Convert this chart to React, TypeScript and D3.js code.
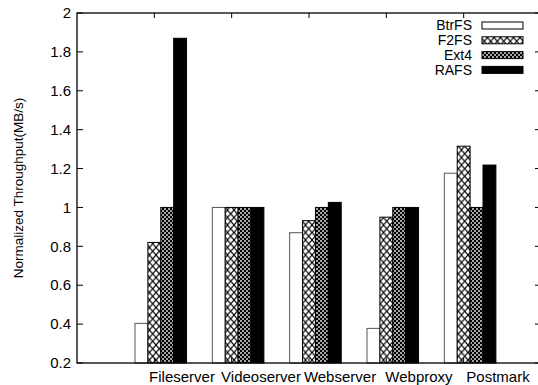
import { useEffect, useRef } from "react";
import * as d3 from "d3";

const categories = ["Fileserver", "Videoserver", "Webserver", "Webproxy", "Postmark"];
const seriesNames = ["BtrFS", "F2FS", "Ext4", "RAFS"];
const btrfs = [0.404, 1.0, 0.87, 0.378, 1.176];
const f2fs = [0.82, 1.0, 0.932, 0.95, 1.315];
const ext4 = [1.0, 1.0, 1.0, 1.0, 1.0];
const rafs = [1.87, 1.0, 1.026, 1.0, 1.218];
const yTicks = [0.2, 0.4, 0.6, 0.8, 1, 1.2, 1.4, 1.6, 1.8, 2];

const series = [btrfs, f2fs, ext4, rafs];
const fills = ["#fff", "url(#f2fs)", "url(#ext4)", "#000"];

export default function App() {
	const ref = useRef<SVGSVGElement>(null);

	useEffect(() => {
		if (!ref.current) return;
		const svg = d3.select(ref.current);
		svg.selectAll("*").remove();

		const left = 77;
		const right = 541;
		const top = 13;
		const bottom = 363;

		const x = d3.scaleLinear().domain([-1, 5]).range([left, right]);
		const y = d3.scaleLinear().domain([0.2, 2]).range([bottom, top]);
		// labels sit a bit right of the tics, like the original
		const xl = d3.scaleLinear().domain([0, 4]).range([182, 498]);
		const bw = 1 / 6;

		// patterns
		const defs = svg.append("defs");
		const p1 = defs
			.append("pattern")
			.attr("id", "f2fs")
			.attr("patternUnits", "userSpaceOnUse")
			.attr("width", 6.5)
			.attr("height", 7.5);
		p1.append("rect").attr("width", 6.5).attr("height", 7.5).attr("fill", "#fff");
		p1.append("path")
			.attr("d", "M0,0L6.5,7.5M6.5,0L0,7.5")
			.attr("stroke", "#000")
			.attr("stroke-width", 1.1);
		const p2 = defs
			.append("pattern")
			.attr("id", "ext4")
			.attr("patternUnits", "userSpaceOnUse")
			.attr("width", 4)
			.attr("height", 4);
		p2.append("rect").attr("width", 4).attr("height", 4).attr("fill", "#000");
		p2.append("rect").attr("x", 0.2).attr("y", 0.2).attr("width", 1.6).attr("height", 1.6).attr("fill", "#fff");
		p2.append("rect").attr("x", 2.2).attr("y", 2.2).attr("width", 1.6).attr("height", 1.6).attr("fill", "#fff");

		const font = "'Liberation Sans', Arial, Helvetica, sans-serif";

		// bars
		series.forEach((vals, j) => {
			svg
				.append("g")
				.selectAll("rect")
				.data(vals)
				.join("rect")
				.attr("x", (_, i) => x(i + (j - 1) * bw - bw / 2))
				.attr("y", (d) => y(d))
				.attr("width", x(bw) - x(0))
				.attr("height", (d) => bottom - y(d))
				.attr("fill", fills[j])
				.attr("stroke", j === 0 ? "#555" : "#000")
				.attr("stroke-width", 1);
		});

		// frame
		svg
			.append("rect")
			.attr("x", left)
			.attr("y", top)
			.attr("width", right - left)
			.attr("height", bottom - top)
			.attr("fill", "none")
			.attr("stroke", "#000")
			.attr("stroke-width", 1.3);

		// y ticks
		const yg = svg.append("g");
		yTicks.forEach((t) => {
			yg.append("line")
				.attr("x1", left)
				.attr("x2", left + 6)
				.attr("y1", y(t))
				.attr("y2", y(t))
				.attr("stroke", "#000");
			yg.append("line")
				.attr("x1", right - 6)
				.attr("x2", right)
				.attr("y1", y(t))
				.attr("y2", y(t))
				.attr("stroke", "#000");
			yg.append("text")
				.attr("x", left - 6)
				.attr("y", y(t))
				.attr("dy", "0.35em")
				.attr("text-anchor", "end")
				.attr("font-family", font)
				.attr("font-size", 15)
				.text(d3.format("~g")(t));
		});

		// x ticks + labels
		categories.forEach((c, i) => {
			svg.append("line")
				.attr("x1", x(i))
				.attr("x2", x(i))
				.attr("y1", top)
				.attr("y2", top + 5)
				.attr("stroke", "#000");
			svg.append("line")
				.attr("x1", x(i))
				.attr("x2", x(i))
				.attr("y1", bottom)
				.attr("y2", bottom - 5)
				.attr("stroke", "#000");
			svg.append("text")
				.attr("x", xl(i))
				.attr("y", 382)
				.attr("text-anchor", "middle")
				.attr("font-family", font)
				.attr("font-size", 15)
				.text(c);
		});

		// y title
		svg.append("text")
			.attr("transform", `translate(18,${(top + bottom) / 2}) rotate(-90)`)
			.attr("text-anchor", "middle")
			.attr("dy", "0.35em")
			.attr("font-family", font)
			.attr("font-size", 13.5)
			.text("Normalized Throughput(MB/s)");

		// legend
		const lg = svg.append("g");
		seriesNames.forEach((n, j) => {
			const cy = 25.5 + j * 14.8;
			lg.append("text")
				.attr("x", 472)
				.attr("y", cy)
				.attr("dy", "0.35em")
				.attr("text-anchor", "end")
				.attr("font-family", font)
				.attr("font-size", 14)
				.text(n);
			lg.append("rect")
				.attr("x", 482)
				.attr("y", cy - 3.5)
				.attr("width", 41)
				.attr("height", 7)
				.attr("fill", fills[j])
				.attr("stroke", "#000");
		});
	}, []);

	return (
		<svg
			ref={ref}
			width={538}
			height={385}
			style={{ position: "absolute", left: 0, top: 0, background: "#fff" }}
		/>
	);
}
